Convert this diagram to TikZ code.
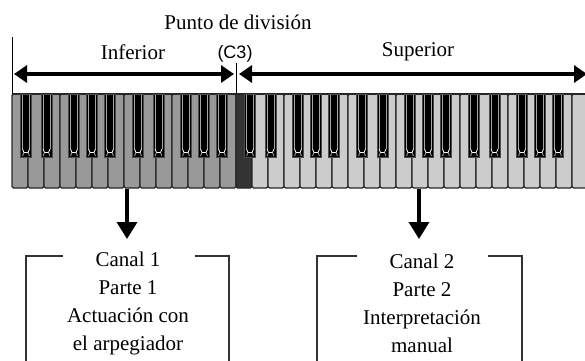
\documentclass[tikz,border=0pt]{standalone}
\usepackage{fontspec}
\setmainfont{Liberation Serif}
\newfontfamily\labsans{Liberation Sans}
\usetikzlibrary{arrows.meta}
\definecolor{lowgray}{HTML}{999999}
\definecolor{highgray}{HTML}{CCCCCC}
\definecolor{splitgray}{HTML}{333333}
\tikzset{
  wkey/.style={draw=black!85, line width=1.1pt, rounded corners=1.5pt},
  lbl/.style={inner sep=0pt, font=\fontsize{21}{24}\selectfont},
  boxtext/.style={inner sep=0pt, align=center, font=\fontsize{21}{28}\selectfont},
  dblarrow/.style={line width=3.5pt, {Triangle[length=13pt,width=17pt]}-{Triangle[length=13pt,width=17pt]}},
  downarrow/.style={line width=3.5pt, -{Triangle[length=17pt,width=20pt]}},
  thinline/.style={line width=1pt, draw=black},
  bracket/.style={line width=1.2pt, draw=black!80},
  bkey/.pic={
    \fill[black] (0,0) rectangle (11,63);
    \draw[black!70, line width=0.8pt] (0,0) rectangle (11,63);
    \draw[black!35, line width=0.8pt] (2,1) -- (2,55) (9,1) -- (9,55);
    \draw[white, line width=0.8pt] (2,55) -- (3.5,58.5) -- (7.5,58.5) -- (9,55);
    \draw[black!35, line width=0.8pt] (3.5,58.5) -- (2,62) (7.5,58.5) -- (9,62);
  }
}
\begin{document}
\begin{tikzpicture}[x=1pt,y=-1pt]
\useasboundingbox (0,0) rectangle (585,360);
\clip (0,0) rectangle (585,360);
% white keys
\foreach \i in {0,...,13} \draw[wkey, fill=lowgray] ({12+16*\i},94) rectangle ++(16,94);
\draw[wkey, fill=splitgray] (236,94) rectangle ++(16,94);
\foreach \i in {15,...,36} \draw[wkey, fill=highgray] ({12+16*\i},94) rectangle ++(16,94);
\draw[black!85, line width=1.1pt] (12,94) -- (600,94);
% black keys
\foreach \o in {0,...,4}
  \foreach \c in {14,34.5,62,80,98}
    \pic at ({12+112*\o+\c-5.5},94) {bkey};
% split markers
\coordinate (leftedgeTop) at (12,37);
\coordinate (leftedgeBot) at (12,94);
\coordinate (splitTop) at (236,63);
\coordinate (splitBot) at (236,94);
\draw[thinline] (leftedgeTop) -- (leftedgeBot);
\draw[thinline] (splitTop) -- (splitBot);
% range arrows
\coordinate (infL) at (14,74);
\coordinate (infR) at (234,74);
\coordinate (supL) at (239,74);
\coordinate (supR) at (587,74);
\draw[dblarrow] (infL) -- (infR);
\draw[dblarrow] (supL) -- (supR);
% labels
\node[lbl] (punto) at (238,22) {Punto de división};
\node[lbl] (inf) at (133,52) {Inferior};
\node[lbl] (sup) at (418,52) {Superior};
\node[inner sep=0pt, font=\labsans\fontsize{18}{22}\selectfont] (c3) at (235,54) {(C3)};
% output boxes
\node[boxtext] (box1) at (128,303) {Canal 1\\Parte 1\\Actuación con\\el arpegiador};
\node[boxtext] (box2) at (422,303) {Canal 2\\Parte 2\\Interpretación\\manual};
\coordinate (kb1) at (127,189);
\coordinate (in1) at (127,239);
\coordinate (kb2) at (419,189);
\coordinate (in2) at (419,239);
\draw[downarrow] (kb1) -- (in1);
\draw[downarrow] (kb2) -- (in2);
\draw[bracket] (63,256) -- (26,256) -- (26,362);
\draw[bracket] (195,256) -- (229,256) -- (229,362);
\draw[bracket] (357,256) -- (317,256) -- (317,362);
\draw[bracket] (488,256) -- (522,256) -- (522,362);
\end{tikzpicture}
\end{document}
